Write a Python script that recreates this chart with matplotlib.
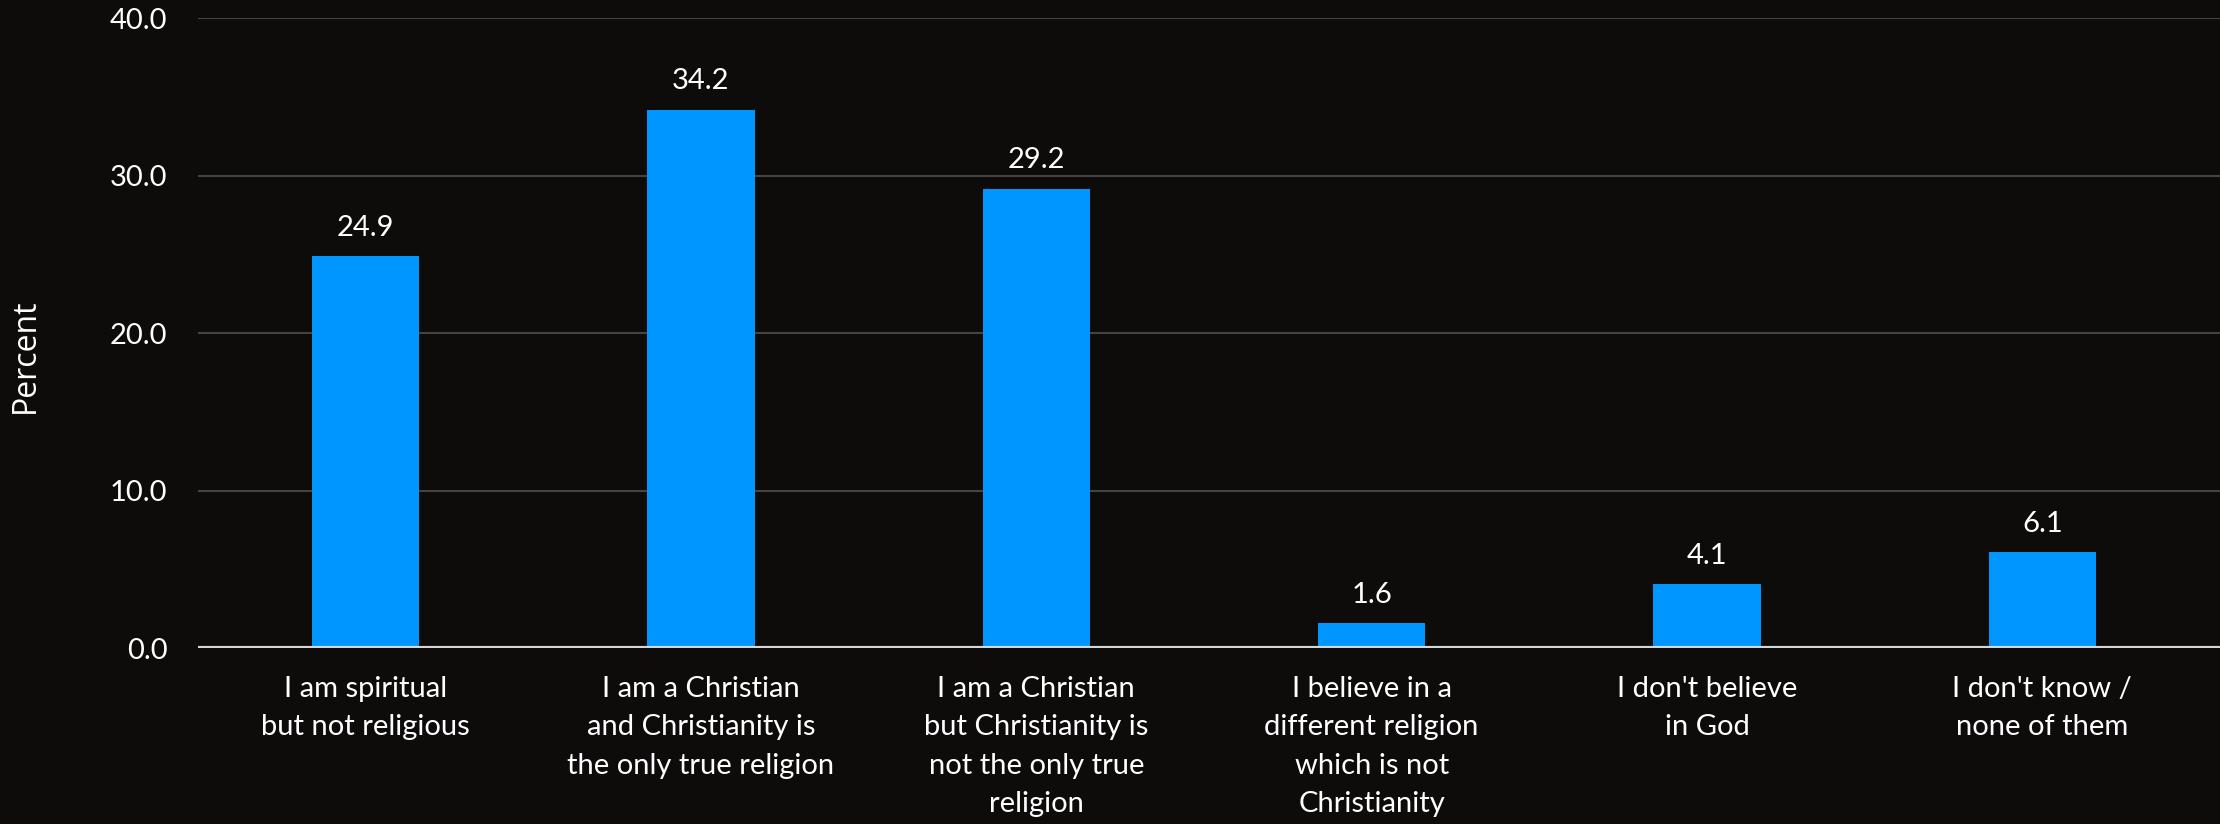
import matplotlib
matplotlib.use("Agg")
import matplotlib.pyplot as plt

categories = [
    "I am spiritual\nbut not religious",
    "I am a Christian\nand Christianity is\nthe only true religion",
    "I am a Christian\nbut Christianity is\nnot the only true\nreligion",
    "I believe in a\ndifferent religion\nwhich is not\nChristianity",
    "I don't believe\nin God",
    "I don't know /\nnone of them",
]
percent = [24.9, 34.2, 29.2, 1.6, 4.1, 6.1]
yticks = [0, 10, 20, 30, 40]

BG = "#0e0b0b"
BAR = "#0096ff"
FONT = ["Lato", "DejaVu Sans"]
FS = 21

fig = plt.figure(figsize=(22.2, 8.24), dpi=100, facecolor=BG)
ax = fig.add_axes([0.0892, 0.213, 0.9108, 0.7647])
ax.set_facecolor(BG)

x = list(range(len(categories)))
ax.bar(x, percent, width=0.32, color=BAR, zorder=3)

for xi, v in zip(x, percent):
    ax.annotate(f"{v:.1f}", (xi, v), xytext=(0, 11), textcoords="offset points",
                ha="center", va="bottom", color="white", fontsize=FS, family=FONT)

ax.set_xlim(-0.5, 5.53)
ax.set_ylim(0, 40)
ax.set_yticks(yticks)
ax.set_yticklabels([f"{t:.1f}" for t in yticks], color="white", fontsize=FS, family=FONT)
ax.set_xticks(x)
ax.set_xticklabels(categories, color="white", fontsize=FS, family=FONT, linespacing=1.58)
ax.tick_params(axis="both", length=0)
ax.tick_params(axis="y", pad=22)
ax.tick_params(axis="x", pad=20)

ax.grid(axis="y", color="#444444", linewidth=1.5, zorder=0)
ax.axhline(0, color="#d6d6d6", linewidth=3, zorder=4)
for s in ax.spines.values():
    s.set_visible(False)

ax.set_ylabel("Percent", color="white", fontsize=23, family="Open Sans")
ax.yaxis.set_label_coords(-0.077, 0.465)

fig.savefig("out.png", dpi=100, facecolor=BG)
